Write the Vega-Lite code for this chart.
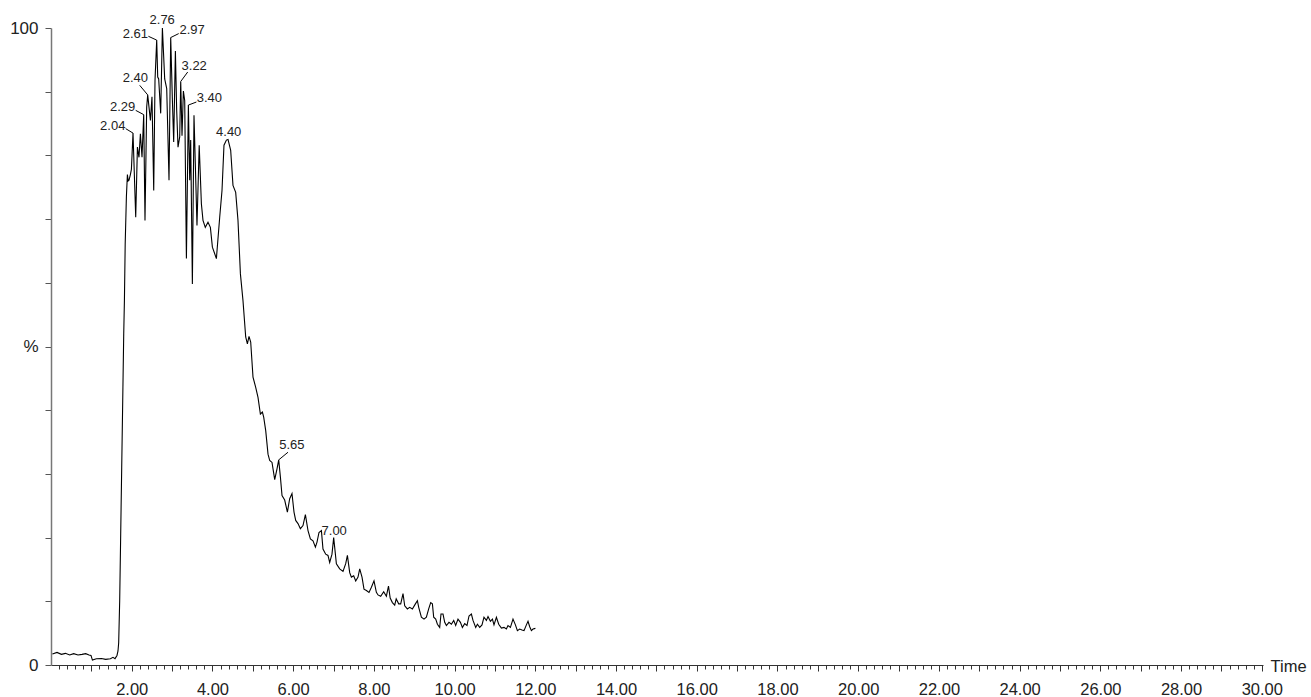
{
  "$schema": "https://vega.github.io/schema/vega-lite/v6.json",
  "width": 1212,
  "height": 637,
  "autosize": {"type": "none"},
  "padding": {"left": 51, "top": 28, "right": 48, "bottom": 32},
  "config": {"view": {"stroke": null}, "font": "Liberation Sans"},
  "datasets": {
    "trace": [
      {"t":0.035,"v":1.73},{"t":0.149,"v":1.98},{"t":0.258,"v":1.67},{"t":0.357,"v":1.83},{"t":0.463,"v":1.57},{"t":0.562,"v":1.78},{"t":0.669,"v":1.57},{"t":0.768,"v":1.67},{"t":0.86,"v":1.78},{"t":0.942,"v":1.57},{"t":0.991,"v":1.5},{"t":1.026,"v":0.77},{"t":1.125,"v":0.98},{"t":1.249,"v":1.03},{"t":1.355,"v":0.88},{"t":1.472,"v":0.98},{"t":1.536,"v":1.2},{"t":1.586,"v":1.0},{"t":1.635,"v":1.5},{"t":1.66,"v":2.2},{"t":1.677,"v":3.5},{"t":1.702,"v":10.1},{"t":1.727,"v":20.6},{"t":1.752,"v":31.0},{"t":1.777,"v":41.5},{"t":1.802,"v":52.0},{"t":1.819,"v":57.2},{"t":1.838,"v":66},{"t":1.868,"v":73.5},{"t":1.893,"v":77.0},{"t":1.913,"v":76.0},{"t":1.933,"v":76.1},{"t":1.967,"v":77.0},{"t":1.992,"v":77.8},{"t":2.032,"v":83.5},{"t":2.099,"v":70.3},{"t":2.141,"v":81.3},{"t":2.180,"v":79.7},{"t":2.215,"v":83.4},{"t":2.255,"v":79.7},{"t":2.297,"v":86.4},{"t":2.329,"v":69.8},{"t":2.371,"v":87.6},{"t":2.396,"v":89.5},{"t":2.463,"v":85.5},{"t":2.502,"v":89.2},{"t":2.545,"v":74.5},{"t":2.577,"v":91.8},{"t":2.619,"v":98.1},{"t":2.644,"v":92.3},{"t":2.668,"v":92.0},{"t":2.718,"v":86.6},{"t":2.760,"v":100},{"t":2.817,"v":92.0},{"t":2.867,"v":90.5},{"t":2.924,"v":76.1},{"t":2.966,"v":98.5},{"t":3.008,"v":88.6},{"t":3.040,"v":82.1},{"t":3.082,"v":96.4},{"t":3.114,"v":87.1},{"t":3.147,"v":81.3},{"t":3.189,"v":82.9},{"t":3.214,"v":91.6},{"t":3.246,"v":83.1},{"t":3.280,"v":90.1},{"t":3.313,"v":88.6},{"t":3.355,"v":63.8},{"t":3.404,"v":87.9},{"t":3.437,"v":76.1},{"t":3.461,"v":82.4},{"t":3.503,"v":59.8},{"t":3.543,"v":86.3},{"t":3.617,"v":69.0},{"t":3.672,"v":81.6},{"t":3.726,"v":72.4},{"t":3.766,"v":69.8},{"t":3.823,"v":68.7},{"t":3.890,"v":69.5},{"t":3.949,"v":68.7},{"t":3.999,"v":65.6},{"t":4.098,"v":63.8},{"t":4.180,"v":70.3},{"t":4.237,"v":74.5},{"t":4.286,"v":81.6},{"t":4.346,"v":82.4},{"t":4.386,"v":82.5},{"t":4.452,"v":80.8},{"t":4.509,"v":75.3},{"t":4.576,"v":74.2},{"t":4.633,"v":69.8},{"t":4.693,"v":61.4},{"t":4.757,"v":57.2},{"t":4.824,"v":51.5},{"t":4.866,"v":50.4},{"t":4.906,"v":51.6},{"t":4.948,"v":50.7},{"t":5.005,"v":45.2},{"t":5.072,"v":43.6},{"t":5.129,"v":42.0},{"t":5.188,"v":39.4},{"t":5.238,"v":39.7},{"t":5.270,"v":38.9},{"t":5.320,"v":36.8},{"t":5.377,"v":33.1},{"t":5.419,"v":32.1},{"t":5.476,"v":31.8},{"t":5.543,"v":29.1},{"t":5.600,"v":30.8},{"t":5.642,"v":32.2},{"t":5.684,"v":29.5},{"t":5.724,"v":26.6},{"t":5.790,"v":25.9},{"t":5.857,"v":24.0},{"t":5.914,"v":26.1},{"t":5.971,"v":26.9},{"t":6.021,"v":24.0},{"t":6.063,"v":22.7},{"t":6.120,"v":22.2},{"t":6.179,"v":21.4},{"t":6.244,"v":21.9},{"t":6.303,"v":23.6},{"t":6.368,"v":21.1},{"t":6.427,"v":19.8},{"t":6.492,"v":19.5},{"t":6.551,"v":18.5},{"t":6.591,"v":19.3},{"t":6.640,"v":20.8},{"t":6.700,"v":21.1},{"t":6.739,"v":18.2},{"t":6.806,"v":17.4},{"t":6.863,"v":17.2},{"t":6.905,"v":16.1},{"t":6.962,"v":17.4},{"t":7.004,"v":20.0},{"t":7.071,"v":15.9},{"t":7.153,"v":15.1},{"t":7.235,"v":14.7},{"t":7.302,"v":15.9},{"t":7.344,"v":17.2},{"t":7.401,"v":14.5},{"t":7.443,"v":13.8},{"t":7.500,"v":14.0},{"t":7.550,"v":13.2},{"t":7.607,"v":13.8},{"t":7.649,"v":15.1},{"t":7.706,"v":13.8},{"t":7.755,"v":11.9},{"t":7.815,"v":11.7},{"t":7.879,"v":11.4},{"t":7.939,"v":12.2},{"t":8.003,"v":13.2},{"t":8.062,"v":11.4},{"t":8.102,"v":11.0},{"t":8.169,"v":10.8},{"t":8.243,"v":11.5},{"t":8.310,"v":10.8},{"t":8.362,"v":12.4},{"t":8.404,"v":10.5},{"t":8.459,"v":9.8},{"t":8.516,"v":9.4},{"t":8.553,"v":10.4},{"t":8.615,"v":9.6},{"t":8.665,"v":9.6},{"t":8.722,"v":11.2},{"t":8.764,"v":9.3},{"t":8.830,"v":8.8},{"t":8.888,"v":9.05},{"t":8.954,"v":8.8},{"t":9.029,"v":9.6},{"t":9.078,"v":10.1},{"t":9.111,"v":9.05},{"t":9.177,"v":7.5},{"t":9.242,"v":7.2},{"t":9.301,"v":7.5},{"t":9.358,"v":8.8},{"t":9.408,"v":9.8},{"t":9.450,"v":9.6},{"t":9.482,"v":7.5},{"t":9.532,"v":7.2},{"t":9.574,"v":6.4},{"t":9.631,"v":5.9},{"t":9.663,"v":8.0},{"t":9.713,"v":8.0},{"t":9.755,"v":6.7},{"t":9.797,"v":6.2},{"t":9.861,"v":6.7},{"t":9.921,"v":6.4},{"t":9.978,"v":7.0},{"t":10.027,"v":6.2},{"t":10.084,"v":7.2},{"t":10.144,"v":6.7},{"t":10.193,"v":5.9},{"t":10.250,"v":6.5},{"t":10.307,"v":6.2},{"t":10.357,"v":7.7},{"t":10.416,"v":8.0},{"t":10.456,"v":7.0},{"t":10.523,"v":5.9},{"t":10.565,"v":6.4},{"t":10.622,"v":5.9},{"t":10.679,"v":6.3},{"t":10.728,"v":7.5},{"t":10.788,"v":7.0},{"t":10.828,"v":7.6},{"t":10.887,"v":6.85},{"t":10.937,"v":7.2},{"t":10.976,"v":6.3},{"t":11.036,"v":7.5},{"t":11.093,"v":6.4},{"t":11.160,"v":5.8},{"t":11.224,"v":5.9},{"t":11.283,"v":5.65},{"t":11.323,"v":6.2},{"t":11.383,"v":5.9},{"t":11.447,"v":7.2},{"t":11.507,"v":6.3},{"t":11.556,"v":5.4},{"t":11.613,"v":5.65},{"t":11.670,"v":5.5},{"t":11.720,"v":5.4},{"t":11.779,"v":6.3},{"t":11.819,"v":6.85},{"t":11.861,"v":6.0},{"t":11.903,"v":5.4},{"t":11.943,"v":5.65},{"t":12.002,"v":5.75}
    ],
    "peaks": [
      {"label":"2.04","t":2.032,"v":83.5,"lt":1.851,"lv":84.2,"tt":1.529,"tv":83.93},
      {"label":"2.29","t":2.297,"v":86.4,"lt":2.099,"lv":87.07,"tt":1.776,"tv":86.92},
      {"label":"2.40","t":2.396,"v":89.5,"lt":2.198,"lv":91.0,"tt":2.091,"tv":91.47},
      {"label":"2.61","t":2.619,"v":98.1,"lt":2.413,"lv":98.7,"tt":2.091,"tv":98.43},
      {"label":"2.76","t":2.760,"v":100,"lt":2.760,"lv":100,"tt":2.755,"tv":100.58},
      {"label":"2.97","t":2.966,"v":98.5,"lt":3.164,"lv":99.12,"tt":3.498,"tv":99.0},
      {"label":"3.22","t":3.214,"v":91.6,"lt":3.387,"lv":93.09,"tt":3.548,"tv":93.47},
      {"label":"3.40","t":3.404,"v":87.9,"lt":3.603,"lv":88.38,"tt":3.925,"tv":88.33},
      {"label":"4.40","t":4.386,"v":82.5,"lt":4.386,"lv":82.5,"tt":4.403,"tv":83.04},
      {"label":"5.65","t":5.642,"v":32.2,"lt":5.872,"lv":33.4,"tt":5.969,"tv":33.98},
      {"label":"7.00","t":7.004,"v":20.0,"lt":7.004,"lv":20.0,"tt":7.017,"tv":20.47}
    ]
  },
  "resolve": {"axis": {"x": "independent"}},
  "layer": [
    {
      "data": {"name": "trace"},
      "mark": {"type": "line", "color": "#000000", "strokeWidth": 1.1},
      "encoding": {
        "x": {
          "field": "t", "type": "quantitative",
          "scale": {"domain": [0, 30.03], "nice": false, "zero": false},
          "axis": {
            "orient": "bottom",
            "values": [1,2,3,4,5,6,7,8,9,10,11,12,13,14,15,16,17,18,19,20,21,22,23,24,25,26,27,28,29,30],
            "labelExpr": "datum.value % 2 == 0 ? format(datum.value, '.2f') : ''",
            "tickSize": 6, "tickColor": "#333333", "domainColor": "#333333", "domainWidth": 1,
            "labelFontSize": 16.5, "labelColor": "#222222", "labelPadding": 10, "labelDx": 4,
            "labelFlush": false, "labelOverlap": false, "labelBound": false, "grid": false,
            "title": "Time", "titleX": 1219, "titleY": 1, "titleAlign": "left", "titleBaseline": "middle",
            "titleAngle": 0, "titleFontWeight": "normal", "titleFontSize": 16.5, "titleColor": "#222222"
          }
        },
        "y": {
          "field": "v", "type": "quantitative",
          "scale": {"domain": [0, 100], "nice": false, "zero": true},
          "axis": {
            "values": [0,10,20,30,40,50,60,70,80,90,100],
            "format": "d",
            "labelExpr": "datum.value == 50 ? '%' : (datum.value == 0 || datum.value == 100 ? datum.label : '')",
            "tickSize": 6, "tickColor": "#555555", "domainColor": "#777777", "domainWidth": 1.5,
            "labelFontSize": 17, "labelColor": "#222222", "labelPadding": 7,
            "labelOverlap": false, "grid": false, "title": null
          }
        }
      }
    },
    {
      "data": {"name": "peaks"},
      "mark": {"type": "rule", "color": "#000000", "strokeWidth": 1},
      "encoding": {
        "x": {
          "field": "t", "type": "quantitative", "title": null,
          "axis": {
            "orient": "bottom",
            "values": [0.2,0.4,0.6,0.8,1.2,1.4,1.6,1.8,2.2,2.4,2.6,2.8,3.2,3.4,3.6,3.8,4.2,4.4,4.6,4.8,5.2,5.4,5.6,5.8,6.2,6.4,6.6,6.8,7.2,7.4,7.6,7.8,8.2,8.4,8.6,8.8,9.2,9.4,9.6,9.8,10.2,10.4,10.6,10.8,11.2,11.4,11.6,11.8,12.2,12.4,12.6,12.8,13.2,13.4,13.6,13.8,14.2,14.4,14.6,14.8,15.2,15.4,15.6,15.8,16.2,16.4,16.6,16.8,17.2,17.4,17.6,17.8,18.2,18.4,18.6,18.8,19.2,19.4,19.6,19.8,20.2,20.4,20.6,20.8,21.2,21.4,21.6,21.8,22.2,22.4,22.6,22.8,23.2,23.4,23.6,23.8,24.2,24.4,24.6,24.8,25.2,25.4,25.6,25.8,26.2,26.4,26.6,26.8,27.2,27.4,27.6,27.8,28.2,28.4,28.6,28.8,29.2,29.4,29.6,29.8],
            "labels": false, "domain": false, "grid": false, "tickSize": 4, "tickColor": "#333333", "title": null
          }
        },
        "x2": {"field": "lt"},
        "y": {"field": "v", "type": "quantitative", "title": null},
        "y2": {"field": "lv"}
      }
    },
    {
      "data": {"name": "peaks"},
      "mark": {"type": "text", "fontSize": 13, "color": "#222222", "align": "center", "baseline": "alphabetic"},
      "encoding": {
        "x": {"field": "tt", "type": "quantitative", "axis": null},
        "y": {"field": "tv", "type": "quantitative", "title": null},
        "text": {"field": "label"}
      }
    }
  ]
}
